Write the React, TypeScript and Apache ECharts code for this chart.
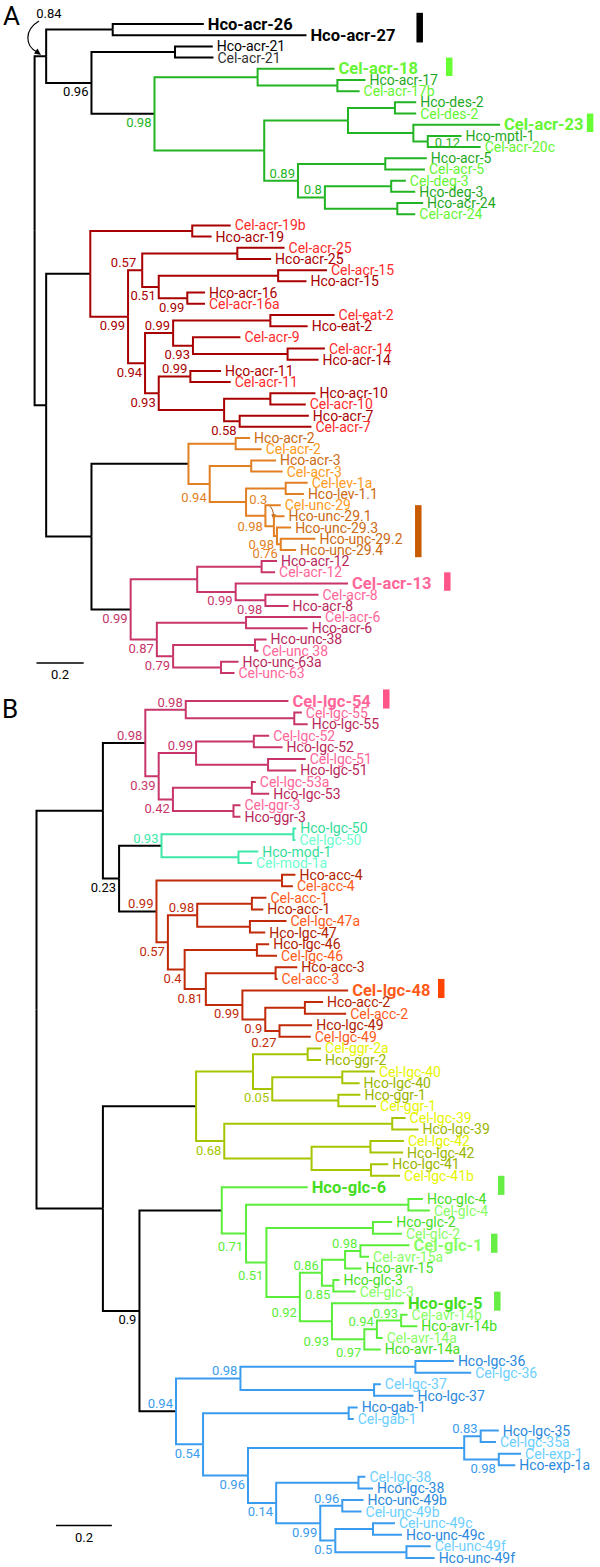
import React, { useEffect, useRef } from "react";
import * as echarts from "echarts";

type TreeNode = [string, string | null, number];

// ---------------- Panel A: nodes [id, parent, distance from root] ----------------
const treeA: TreeNode[] = [
  ["rA", null, 0],
  ["a1", "rA", 0.049],
  ["a26", "a1", 0.331],
  ["Hco-acr-26", "a26", 0.717],
  ["Hco-acr-27", "a26", 1.152],
  ["a3", "a1", 0.241],
  ["a21", "a3", 0.595],
  ["Hco-acr-21", "a21", 0.755],
  ["Cel-acr-21", "a21", 0.758],
  ["gA", "a3", 0.508],
  ["g18", "gA", 0.945],
  ["Cel-acr-18", "g18", 1.271],
  ["g17", "g18", 1.283],
  ["Hco-acr-17", "g17", 1.402],
  ["Cel-acr-17b", "g17", 1.377],
  ["gD", "gA", 0.973],
  ["gE", "gD", 1.328],
  ["gDes", "gE", 1.527],
  ["Hco-des-2", "gDes", 1.617],
  ["Cel-des-2", "gDes", 1.617],
  ["g23", "gE", 1.605],
  ["Cel-acr-23", "g23", 1.972],
  ["gM", "g23", 1.666],
  ["Hco-mptl-1", "gM", 1.809],
  ["Cel-acr-20c", "gM", 1.89],
  ["gB", "gD", 1.116],
  ["g5", "gB", 1.486],
  ["Hco-acr-5", "g5", 1.662],
  ["Cel-acr-5", "g5", 1.654],
  ["gC", "gB", 1.23],
  ["gDeg", "gC", 1.511],
  ["Cel-deg-3", "gDeg", 1.573],
  ["Hco-deg-3", "gDeg", 1.613],
  ["g24", "gC", 1.537],
  ["Hco-acr-24", "g24", 1.646],
  ["Cel-acr-24", "g24", 1.613],
  ["a2", "rA", 0.049],
  ["rR", "a2", 0.236],
  ["r19", "rR", 0.668],
  ["Cel-acr-19b", "r19", 0.831],
  ["Hco-acr-19", "r19", 0.75],
  ["r2", "rR", 0.396],
  ["r3", "r2", 0.456],
  ["r25", "r3", 0.859],
  ["Cel-acr-25", "r25", 1.059],
  ["Hco-acr-25", "r25", 1.002],
  ["r4", "r3", 0.526],
  ["r15", "r4", 1.032],
  ["Cel-acr-15", "r15", 1.239],
  ["Hco-acr-15", "r15", 1.152],
  ["r16", "r4", 0.647],
  ["Hco-acr-16", "r16", 0.722],
  ["Cel-acr-16a", "r16", 0.722],
  ["r5", "r2", 0.468],
  ["r6", "r5", 0.587],
  ["rEat", "r6", 0.999],
  ["Cel-eat-2", "rEat", 1.271],
  ["Hco-eat-2", "rEat", 1.157],
  ["r9", "r6", 0.671],
  ["Cel-acr-9", "r9", 0.872],
  ["r14", "r9", 1.072],
  ["Cel-acr-14", "r14", 1.23],
  ["Hco-acr-14", "r14", 1.203],
  ["r7", "r5", 0.526],
  ["r11", "r7", 0.66],
  ["Hco-acr-11", "r11", 0.79],
  ["Cel-acr-11", "r11", 0.831],
  ["r8", "r7", 0.803],
  ["r10", "r8", 0.999],
  ["Hco-acr-10", "r10", 1.19],
  ["Cel-acr-10", "r10", 1.149],
  ["r7b", "r8", 0.869],
  ["Hco-acr-7", "r7b", 1.162],
  ["Cel-acr-7", "r7b", 1.173],
  ["aOP", "a2", 0.241],
  ["oO", "aOP", 0.652],
  ["o2n", "oO", 0.852],
  ["Hco-acr-2", "o2n", 0.913],
  ["Cel-acr-2", "o2n", 0.962],
  ["o2", "oO", 0.742],
  ["o3n", "o2", 0.918],
  ["Hco-acr-3", "o3n", 1.023],
  ["Cel-acr-3", "o3n", 1.051],
  ["o3", "o2", 0.896],
  ["oLev", "o3", 1.064],
  ["Cel-lev-1a", "oLev", 1.157],
  ["Hco-lev-1.1", "oLev", 1.141],
  ["o4", "o3", 0.978],
  ["Cel-unc-29", "o4", 1.043],
  ["q3", "o4", 1.014],
  ["Hco-unc-29.1", "q3", 1.059],
  ["q2", "q3", 1.027],
  ["Hco-unc-29.3", "q2", 1.087],
  ["q1", "q2", 1.043],
  ["Hco-unc-29.2", "q1", 1.19],
  ["Hco-unc-29.4", "q1", 1.108],
  ["pP", "aOP", 0.407],
  ["p1", "pP", 0.689],
  ["p12", "p1", 0.962],
  ["Hco-acr-12", "p12", 1.027],
  ["Cel-acr-12", "p12", 1.019],
  ["p2", "p1", 0.852],
  ["Cel-acr-13", "p2", 1.328],
  ["p8", "p2", 0.978],
  ["Cel-acr-8", "p8", 1.203],
  ["Hco-acr-8", "p8", 1.076],
  ["p3", "pP", 0.518],
  ["p6", "p3", 0.896],
  ["Cel-acr-6", "p6", 1.214],
  ["Hco-acr-6", "p6", 1.157],
  ["p4", "p3", 0.587],
  ["p38", "p4", 0.934],
  ["Hco-unc-38", "p38", 0.983],
  ["Cel-unc 38", "p38", 0.948],
  ["p63", "p4", 0.79],
  ["Hco-unc-63a", "p63", 0.864],
  ["Cel-unc-63", "p63", 0.847],
];

const cladesA: [string, string][] = [
  ["rA", "black"], ["gA", "green"], ["rR", "red"], ["oO", "orange"], ["pP", "pink"],
];

const supportA: [string, number][] = [
  ["a1", 0.84], ["a3", 0.96], ["gA", 0.98], ["gM", 0.12], ["gB", 0.89], ["gC", 0.8],
  ["r2", 0.99], ["r3", 0.57], ["r4", 0.51], ["r16", 0.99], ["r5", 0.94], ["r6", 0.99],
  ["r9", 0.93], ["r11", 0.99], ["r7", 0.93], ["r7b", 0.58],
  ["o2", 0.94], ["o4", 0.3], ["q3", 0.98], ["q2", 0.98], ["q1", 0.76],
  ["pP", 0.99], ["p2", 0.99], ["p8", 0.98], ["p3", 0.87], ["p4", 0.79],
];

const highlightA = ["Hco-acr-26", "Hco-acr-27", "Cel-acr-18", "Cel-acr-23", "Cel-acr-13"];

const barsA: [string, string, string][] = [
  ["Hco-acr-26", "Hco-acr-27", "black"],
  ["Cel-acr-18", "Cel-acr-18", "green"],
  ["Cel-acr-23", "Cel-acr-23", "green"],
  ["Hco-unc-29.1", "Hco-unc-29.4", "orange"],
  ["Cel-acr-13", "Cel-acr-13", "pink"],
];

// ---------------- Panel B ----------------
const treeB: TreeNode[] = [
  ["rB", null, 0],
  ["b1", "rB", 0.238],
  ["bP", "b1", 0.39],
  ["bPa", "bP", 0.535],
  ["Cel-lgc-54", "bPa", 0.903],
  ["b55", "bPa", 0.924],
  ["Cel-lgc-55", "b55", 0.951],
  ["Hco-lgc-55", "b55", 0.972],
  ["bPb", "bP", 0.438],
  ["bPc", "bPb", 0.572],
  ["b52", "bPc", 0.779],
  ["Cel-lgc-52", "b52", 0.834],
  ["Hco-lgc-52", "b52", 0.882],
  ["b51", "bPc", 0.83],
  ["Cel-lgc-51", "b51", 0.965],
  ["Hco-lgc-51", "b51", 0.931],
  ["bPd", "bPb", 0.489],
  ["b53", "bPd", 0.772],
  ["Cel-lgc-53a", "b53", 0.786],
  ["Hco-lgc-53", "b53", 0.834],
  ["bG3", "bPd", 0.706],
  ["Cel-ggr-3", "bG3", 0.731],
  ["Hco-ggr-3", "bG3", 0.731],
  ["b3", "b1", 0.296],
  ["tT", "b3", 0.448],
  ["t50", "tT", 0.921],
  ["Hco-lgc-50", "t50", 0.931],
  ["Cel-lgc-50", "t50", 0.928],
  ["tMod", "tT", 0.724],
  ["Hco-mod-1", "tMod", 0.795],
  ["Cel-mod-1a", "tMod", 0.772],
  ["sR", "b3", 0.43],
  ["s4", "sR", 0.88],
  ["Hco-acc-4", "s4", 0.928],
  ["Cel-acc-4", "s4", 0.919],
  ["s2", "sR", 0.471],
  ["s3", "s2", 0.576],
  ["s1", "s3", 0.772],
  ["Cel-acc-1", "s1", 0.824],
  ["Hco-acc-1", "s1", 0.813],
  ["s47", "s3", 0.765],
  ["Cel-lgc-47a", "s47", 0.896],
  ["Hco-lgc-47", "s47", 0.82],
  ["sW", "s2", 0.531],
  ["s46", "sW", 0.79],
  ["Hco-lgc-46", "s46", 0.834],
  ["Cel-lgc-46", "s46", 0.862],
  ["sZ", "sW", 0.607],
  ["sA3", "sZ", 0.857],
  ["Hco-acc-3", "sA3", 0.935],
  ["Cel-acc-3", "sA3", 0.864],
  ["sY", "sZ", 0.738],
  ["Cel-lgc-48", "sY", 1.117],
  ["sX", "sY", 0.82],
  ["sA2", "sX", 0.962],
  ["Hco-acc-2", "sA2", 1.027],
  ["Cel-acc-2", "sA2", 1.11],
  ["s49", "sX", 0.871],
  ["Hco-lgc-49", "s49", 0.988],
  ["Cel-lgc-49", "s49", 0.983],
  ["b2", "rB", 0.238],
  ["yY", "b2", 0.572],
  ["y1", "yY", 0.776],
  ["yG2", "y1", 0.972],
  ["Cel-ggr-2a", "yG2", 1.02],
  ["Hco-ggr-2", "yG2", 1.02],
  ["y1b", "y1", 0.845],
  ["y40", "y1b", 1.096],
  ["Cel-lgc-40", "y40", 1.213],
  ["Hco-lgc-40", "y40", 1.158],
  ["yG1", "y1b", 1.082],
  ["Hco-ggr-1", "yG1", 1.161],
  ["Cel-ggr-1", "yG1", 1.217],
  ["y2", "yY", 0.673],
  ["y39", "y2", 1.275],
  ["Cel-lgc-39", "y39", 1.323],
  ["Hco-lgc-39", "y39", 1.369],
  ["y3", "y2", 0.986],
  ["y42", "y3", 1.197],
  ["Cel-lgc-42", "y42", 1.317],
  ["Hco-lgc-42", "y42", 1.314],
  ["y41", "y3", 1.199],
  ["Hco-lgc-41", "y41", 1.261],
  ["Cel-lgc-41b", "y41", 1.303],
  ["b4", "b2", 0.369],
  ["lG", "b4", 0.664],
  ["Hco-glc-6", "lG", 0.972],
  ["l2", "lG", 0.751],
  ["l4", "l2", 1.333],
  ["Hco-glc-4", "l4", 1.385],
  ["Cel-glc-4", "l4", 1.41],
  ["l3", "l2", 0.824],
  ["lG2n", "l3", 1.206],
  ["Hco-glc-2", "lG2n", 1.275],
  ["Cel-glc-2", "lG2n", 1.31],
  ["l4n", "l3", 0.944],
  ["l5", "l4n", 1.023],
  ["l7", "l5", 1.106],
  ["l7b", "l7", 1.161],
  ["Cel-glc-1", "l7b", 1.337],
  ["Cel-avr-15a", "l7b", 1.192],
  ["Hco-avr-15", "l7", 1.165],
  ["l8", "l5", 1.064],
  ["Hco-glc-3", "l8", 1.086],
  ["Cel-glc-3", "l8", 1.144],
  ["l6", "l4n", 1.059],
  ["Hco-glc-5", "l6", 1.317],
  ["l9", "l6", 1.175],
  ["l10", "l9", 1.22],
  ["l11", "l10", 1.307],
  ["Cel-avr-14b", "l11", 1.33],
  ["Hco-avr-14b", "l11", 1.365],
  ["Cel-avr-14a", "l10", 1.241],
  ["Hco-avr-14a", "l9", 1.234],
  ["uB", "b4", 0.5],
  ["u1", "uB", 0.731],
  ["u36", "u1", 1.358],
  ["Hco-lgc-36", "u36", 1.496],
  ["Cel-lgc-36", "u36", 1.558],
  ["u37", "u1", 1.21],
  ["Cel-lgc-37", "u37", 1.234],
  ["Hco-lgc-37", "u37", 1.351],
  ["u2", "uB", 0.597],
  ["uGab", "u2", 1.119],
  ["Hco-gab-1", "uGab", 1.151],
  ["Cel-gab-1", "uGab", 1.137],
  ["u3", "u2", 0.758],
  ["u5", "u3", 1.533],
  ["u35", "u5", 1.592],
  ["Hco-lgc-35", "u35", 1.657],
  ["Cel-lgc-35a", "u35", 1.647],
  ["uExp", "u5", 1.657],
  ["Cel-exp-1", "uExp", 1.737],
  ["Hco-exp-1a", "uExp", 1.716],
  ["u6", "u3", 0.859],
  ["u38", "u6", 1.154],
  ["Cel-lgc-38", "u38", 1.179],
  ["Hco-lgc-38", "u38", 1.206],
  ["u7", "u6", 1.017],
  ["u49b", "u7", 1.096],
  ["Hco-unc-49b", "u49b", 1.172],
  ["Cel-unc-49b", "u49b", 1.165],
  ["u8", "u7", 1.071],
  ["u49c", "u8", 1.206],
  ["Cel-unc-49c", "u49c", 1.285],
  ["Hco-unc-49c", "u49c", 1.31],
  ["u49f", "u8", 1.326],
  ["Cel-unc-49f", "u49f", 1.413],
  ["Hco-unc-49f", "u49f", 1.427],
];

const cladesB: [string, string][] = [
  ["rB", "black"], ["bP", "pink"], ["tT", "teal"], ["sR", "vermilion"],
  ["yY", "olive"], ["lG", "lime"], ["uB", "blue"],
];

const supportB: [string, number][] = [
  ["bP", 0.98], ["bPa", 0.98], ["bPc", 0.99], ["bPb", 0.39], ["bPd", 0.42], ["tT", 0.93],
  ["b3", 0.23], ["sR", 0.99], ["s3", 0.98], ["s2", 0.57], ["sW", 0.4], ["sZ", 0.81],
  ["sY", 0.99], ["sX", 0.9], ["s49", 0.27], ["y1b", 0.05], ["y2", 0.68], ["b4", 0.9],
  ["l2", 0.71], ["l3", 0.51], ["l5", 0.86], ["l7b", 0.98], ["l8", 0.85], ["l4n", 0.92],
  ["l6", 0.93], ["l9", 0.97], ["l10", 0.94], ["l11", 0.93], ["uB", 0.94], ["u1", 0.98],
  ["u2", 0.54], ["u3", 0.96], ["u35", 0.83], ["uExp", 0.98], ["u6", 0.14], ["u49b", 0.96],
  ["u7", 0.99], ["u8", 0.5],
];

const highlightB = ["Cel-lgc-54", "Cel-lgc-48", "Hco-glc-6", "Cel-glc-1", "Hco-glc-5"];

const barsB: [string, string, string][] = [
  ["Cel-lgc-54", "Cel-lgc-54", "pink"],
  ["Cel-lgc-48", "Cel-lgc-48", "vermilion"],
  ["Hco-glc-6", "Hco-glc-6", "lime"],
  ["Cel-glc-1", "Cel-glc-1", "lime"],
  ["Hco-glc-5", "Hco-glc-5", "lime"],
];

const scaleBarValue = 0.2;

// ---------------- styles / layout ----------------
const FONT = "Roboto, 'Liberation Sans', sans-serif";

const palette: Record<string, { branch: string; hco: string; cel: string; bar: string }> = {
  black: { branch: "#000000", hco: "#000000", cel: "#333333", bar: "#000000" },
  green: { branch: "#22b422", hco: "#1fa81f", cel: "#66f533", bar: "#66ff33" },
  red: { branch: "#a80000", hco: "#a80000", cel: "#ff2a2a", bar: "#ff2a2a" },
  orange: { branch: "#e27f22", hco: "#cc6a12", cel: "#ff9a22", bar: "#c85a00" },
  pink: { branch: "#c8356a", hco: "#b8285a", cel: "#ff6699", bar: "#ff5588" },
  teal: { branch: "#3de8a8", hco: "#33dd99", cel: "#70ffd0", bar: "#33dd99" },
  vermilion: { branch: "#c02a08", hco: "#b02200", cel: "#ff5a1a", bar: "#ff4400" },
  olive: { branch: "#a8c400", hco: "#9ab400", cel: "#e6f500", bar: "#a8c400" },
  lime: { branch: "#5aee3a", hco: "#44dd22", cel: "#88ff66", bar: "#66ee44" },
  blue: { branch: "#3a9cee", hco: "#2a88dd", cel: "#6ccfff", bar: "#3a9cee" },
};

type Place = [number, number, "left" | "right"];
const placeA: Record<string, Place> = {
  a1: [-10, -43, "left"],
  gM: [7, 1, "left"],
  o2: [-3, 13, "right"],
  o4: [2, -16, "right"],
  q3: [-11, 0, "right"],
  r3: [-6, -8, "right"],
};
const aboveA = ["gB", "gC", "r6", "r11"];
const placeB: Record<string, Place> = {
  l2: [-3, 13, "right"],
  l3: [-3, 13, "right"],
  l4n: [-3, 15, "right"],
  l6: [-3, 20, "right"],
  l9: [-3, 13, "right"],
  s49: [-3, 11, "right"],
};
const aboveB = ["bP", "bPa", "bPc", "tT", "sR", "s3", "l5", "l7b", "l10", "l11", "uB", "u1", "u35", "u49b"];

const panels = {
  A: { top: 0, height: 750, rootPx: 34.6, pxPerUnit: 236, firstLeafPx: 24, leafStep: 11.19,
       barDepth: [1.618, 1.743, 2.34, 1.612, 1.735], scaleAt: [0.008, 57.1] },
  B: { top: 690, height: 877, rootPx: 36.5, pxPerUnit: 279, firstLeafPx: 701, leafStep: 11.58,
       barDepth: [1.242, 1.439, 1.654, 1.629, 1.64], scaleAt: [0.07, 71.2] },
};

interface Info {
  id: string; parent: string | null; depth: number; y: number; leaf: boolean; clade: string; support?: number;
}

function layoutTree(nodes: TreeNode[], clades: [string, string][], supports: [string, number][]) {
  const byId: Record<string, Info> = {};
  const kids: Record<string, string[]> = {};
  let root = "";
  nodes.forEach(([id, parent, depth]) => {
    byId[id] = { id, parent, depth, y: 0, leaf: true, clade: "black" };
    kids[id] = [];
    if (parent) kids[parent].push(id);
    else root = id;
  });
  const cladeMap: Record<string, string> = {};
  clades.forEach(([id, c]) => (cladeMap[id] = c));
  let leafIdx = 0;
  const visit = (id: string, clade: string) => {
    const c = cladeMap[id] || clade;
    const n = byId[id];
    n.clade = c;
    const ch = kids[id];
    if (ch.length === 0) {
      n.y = leafIdx++;
      return;
    }
    n.leaf = false;
    ch.forEach((k) => visit(k, c));
    n.y = (byId[ch[0]].y + byId[ch[ch.length - 1]].y) / 2;
  };
  visit(root, "black");
  supports.forEach(([id, v]) => (byId[id].support = v));
  return { list: nodes.map((n) => byId[n[0]]), byId };
}

function treeSeries(
  tree: ReturnType<typeof layoutTree>,
  idx: number,
  highlight: string[],
  place: Record<string, Place>,
  above: string[]
) {
  return {
    type: "custom",
    coordinateSystem: "cartesian2d",
    xAxisIndex: idx,
    yAxisIndex: idx,
    silent: true,
    data: tree.list.map((n) => [n.depth, n.y]),
    renderItem: (params: any, api: any) => {
      const n = tree.list[params.dataIndex];
      const children: any[] = [];
      const [x, y] = api.coord([n.depth, n.y]);
      if (n.parent) {
        const par = tree.byId[n.parent];
        const [px, py] = api.coord([par.depth, par.y]);
        children.push({
          type: "polyline",
          shape: { points: [[px, py], [px, y], [x, y]] },
          style: { stroke: palette[par.clade].branch, lineWidth: 2, fill: "none", lineJoin: "miter" },
        });
      }
      if (n.leaf) {
        const bold = highlight.indexOf(n.id) >= 0;
        const pal = palette[n.clade];
        children.push({
          type: "text",
          z2: 20,
          style: {
            text: n.id,
            x: x + 4,
            y,
            fill: n.id.startsWith("Hco") ? pal.hco : pal.cel,
            fontSize: bold ? 16.5 : 14,
            fontWeight: bold ? "bold" : "normal",
            fontFamily: FONT,
            align: "left",
            verticalAlign: "middle",
            textAlign: "left",
            textVerticalAlign: "middle",
          },
        });
      }
      if (n.support !== undefined) {
        let p: Place = above.indexOf(n.id) >= 0 ? [-3, -7.5, "right"] : [-3, 9, "right"];
        if (place[n.id]) p = place[n.id];
        children.push({
          type: "text",
          z2: 20,
          style: {
            text: String(n.support),
            x: x + p[0],
            y: y + p[1],
            fill: palette[n.clade].branch,
            fontSize: 13,
            fontFamily: FONT,
            align: p[2],
            verticalAlign: "middle",
            textAlign: p[2],
            textVerticalAlign: "middle",
          },
        });
      }
      return { type: "group", children };
    },
  };
}

function barSeries(tree: ReturnType<typeof layoutTree>, idx: number, bars: [string, string, string][], depths: number[]) {
  return {
    type: "custom",
    coordinateSystem: "cartesian2d",
    xAxisIndex: idx,
    yAxisIndex: idx,
    silent: true,
    data: bars.map((b, i) => [depths[i], tree.byId[b[0]].y, tree.byId[b[1]].y]),
    renderItem: (params: any, api: any) => {
      const b = bars[params.dataIndex];
      const d = depths[params.dataIndex];
      const [x, y1] = api.coord([d, tree.byId[b[0]].y - 1.0]);
      const [, y2] = api.coord([d, tree.byId[b[1]].y + 0.65]);
      return {
        type: "rect",
        shape: { x, y: y1, width: 6.5, height: y2 - y1 },
        style: { fill: palette[b[2]].bar },
      };
    },
  };
}

function scaleSeries(idx: number, at: number[]) {
  return {
    type: "custom",
    coordinateSystem: "cartesian2d",
    xAxisIndex: idx,
    yAxisIndex: idx,
    silent: true,
    data: [[at[0], at[1]]],
    renderItem: (_p: any, api: any) => {
      const [x1, y] = api.coord([at[0], at[1]]);
      const [x2] = api.coord([at[0] + scaleBarValue, at[1]]);
      return {
        type: "group",
        children: [
          { type: "line", shape: { x1, y1: y, x2, y2: y }, style: { stroke: "#000", lineWidth: 1.5 } },
          {
            type: "text",
            style: {
              text: String(scaleBarValue), x: (x1 + x2) / 2, y: y + 12, fill: "#000", fontSize: 13,
              fontFamily: FONT, align: "center", verticalAlign: "middle", textAlign: "center", textVerticalAlign: "middle",
            },
          },
        ],
      };
    },
  };
}

function buildOption() {
  const tA = layoutTree(treeA, cladesA, supportA);
  const tB = layoutTree(treeB, cladesB, supportB);
  const pa = panels.A;
  const pb = panels.B;
  const axisX = (p: typeof pa, gi: number) => ({
    type: "value", gridIndex: gi, show: false,
    min: -p.rootPx / p.pxPerUnit, max: (600 - p.rootPx) / p.pxPerUnit,
  });
  const axisY = (p: typeof pa, gi: number) => ({
    type: "value", gridIndex: gi, show: false, inverse: true,
    min: (p.top - p.firstLeafPx) / p.leafStep, max: (p.top + p.height - p.firstLeafPx) / p.leafStep,
  });
  const txt = (text: string, x: number, y: number, size: number) => ({
    type: "text",
    style: { text, x, y, fontSize: size, fontFamily: FONT, fill: "#000", verticalAlign: "middle", textVerticalAlign: "middle" },
  });
  return {
    animation: false,
    backgroundColor: "#ffffff",
    grid: [
      { left: 0, top: pa.top, width: 600, height: pa.height },
      { left: 0, top: pb.top, width: 600, height: pb.height },
    ],
    xAxis: [axisX(pa, 0), axisX(pb, 1)],
    yAxis: [axisY(pa, 0), axisY(pb, 1)],
    graphic: [
      txt("A", 3, 16, 26),
      txt("B", 2, 709, 26),
      {
        type: "bezierCurve",
        shape: { x1: 39, y1: 21, cpx1: 24, cpy1: 30, cpx2: 25, cpy2: 46, x2: 37, y2: 52 },
        style: { stroke: "#000", lineWidth: 1.2, fill: "none" },
      },
      { type: "polygon", shape: { points: [[41, 55], [34, 53.5], [37.5, 48.5]] }, style: { fill: "#000" } },
      {
        type: "bezierCurve",
        shape: { x1: 268.5, y1: 505, cpx1: 272, cpy1: 507, cpx2: 273, cpy2: 511, x2: 273.5, y2: 515 },
        style: { stroke: "#b05a10", lineWidth: 1, fill: "none" },
      },
      { type: "polygon", shape: { points: [[273.8, 520], [271.3, 514.5], [276, 514.3]] }, style: { fill: "#b05a10" } },
    ],
    series: [
      treeSeries(tA, 0, highlightA, placeA, aboveA),
      barSeries(tA, 0, barsA, pa.barDepth),
      scaleSeries(0, pa.scaleAt),
      treeSeries(tB, 1, highlightB, placeB, aboveB),
      barSeries(tB, 1, barsB, pb.barDepth),
      scaleSeries(1, pb.scaleAt),
    ],
  };
}

export default function App() {
  const ref = useRef<HTMLDivElement>(null);
  useEffect(() => {
    document.body.style.margin = "0";
    const chart = echarts.init(ref.current as HTMLDivElement, undefined, { renderer: "svg", width: 600, height: 1567 });
    chart.setOption(buildOption() as any);
    return () => chart.dispose();
  }, []);
  return <div ref={ref} style={{ width: 600, height: 1567 }} />;
}
